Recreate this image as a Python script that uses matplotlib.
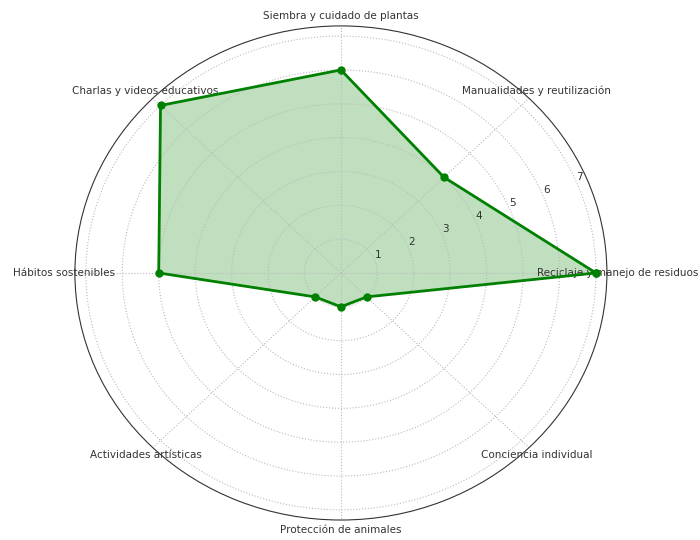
import numpy as np
import matplotlib
matplotlib.use("Agg")
import matplotlib.pyplot as plt

categories = [
    "Reciclaje y manejo de residuos",
    "Manualidades y reutilización",
    "Siembra y cuidado de plantas",
    "Charlas y videos educativos",
    "Hábitos sostenibles",
    "Actividades artísticas",
    "Protección de animales",
    "Conciencia individual",
]
values = [7, 4, 6, 7, 5, 1, 1, 1]

angles = np.linspace(0, 2 * np.pi, len(categories), endpoint=False)
angles_closed = np.concatenate([angles, angles[:1]])
values_closed = values + values[:1]

fig = plt.figure(figsize=(7, 5.4), dpi=100)
ax = fig.add_axes([0.107, 0.037, 0.76, 0.915], projection="polar")
ax.set_aspect("auto")

ax.plot(angles_closed, values_closed, color="green", linewidth=2,
        marker="o", markersize=5)
ax.fill(angles_closed, values_closed, color="green", alpha=0.25)

ax.set_xticks(angles)
ax.set_xticklabels(categories, fontsize=7.5, color="#333333")
ax.tick_params(axis="x", pad=-3)
ax.tick_params(axis="y", labelsize=7.5, labelcolor="#333333")
ax.grid(True, linestyle=":", color="#bbbbbb", linewidth=0.8)
ax.spines["polar"].set_color("#333333")

fig.savefig("out.png", dpi=100)
